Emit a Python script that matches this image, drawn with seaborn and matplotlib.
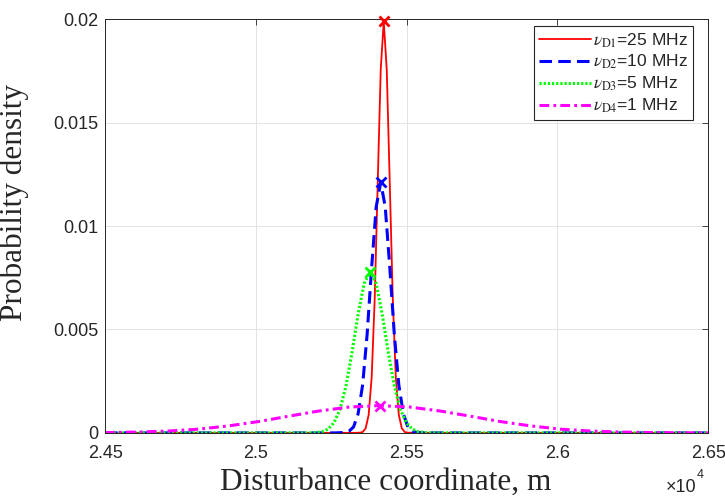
import seaborn as sns
import matplotlib.pyplot as plt
from matplotlib.ticker import FuncFormatter

# disturbance coordinate (m) and probability density
x_d1 = [24500, 25324, 25344, 25354, 25364, 25374, 25384, 25394, 25404, 25414, 25424,
        25434, 25444, 25454, 25464, 25474, 25484, 25494, 25504, 25524, 26500]
pdf_d1 = [0, 0, 0.00001, 0.00004, 0.00022, 0.00087, 0.00269, 0.00646, 0.01207, 0.01756, 0.0199,
          0.01756, 0.01207, 0.00646, 0.00269, 0.00087, 0.00022, 0.00004, 0.00001, 0, 0]

x_d2 = [24500, 25264, 25294, 25309, 25324, 25339, 25354, 25369, 25384, 25399, 25414,
        25429, 25444, 25459, 25474, 25489, 25504, 25519, 25534, 25564, 26500]
pdf_d2 = [0, 0, 0.00002, 0.00008, 0.00029, 0.00092, 0.00232, 0.00478, 0.00802, 0.01093, 0.01212,
          0.01093, 0.00802, 0.00478, 0.00232, 0.00092, 0.00029, 0.00008, 0.00002, 0, 0]

x_d3 = [24500, 25159, 25199, 25219, 25239, 25259, 25279, 25299, 25319, 25339, 25359, 25379,
        25399, 25419, 25439, 25459, 25479, 25499, 25519, 25539, 25559, 25599, 26500]
pdf_d3 = [0, 0, 0.000015, 0.000057, 0.00018, 0.00049, 0.00114, 0.00228, 0.0039, 0.00573, 0.00722, 0.0078,
          0.00722, 0.00573, 0.0039, 0.00228, 0.00114, 0.00049, 0.00018, 0.000057, 0.000015, 0, 0]

x_d4 = [24500, 24610, 24710, 24810, 24910, 25010, 25110, 25210, 25310, 25410,
        25510, 25610, 25710, 25810, 25910, 26010, 26110, 26210, 26310, 26410, 26500]
pdf_d4 = [0.000014, 0.00004, 0.00009, 0.00018, 0.00034, 0.00055, 0.00081, 0.00106, 0.00125, 0.00132,
          0.00125, 0.00106, 0.00081, 0.00055, 0.00034, 0.00018, 0.00009, 0.00004, 0.000016, 0.000005, 0.000002]

# peak markers
peak_x = [25424, 25414, 25379, 25410]
peak_y = [0.0199, 0.01212, 0.0078, 0.00132]

labels = [r'$\nu_{\mathrm{D1}}$=25 MHz', r'$\nu_{\mathrm{D2}}$=10 MHz',
          r'$\nu_{\mathrm{D3}}$=5 MHz', r'$\nu_{\mathrm{D4}}$=1 MHz']

x_ticks = [24500, 25000, 25500, 26000, 26500]
y_ticks = [0, 0.005, 0.01, 0.015, 0.02]

# styles
colors = ['#ff0000', '#0000ff', '#00ff00', '#ff00ff']
widths = [1.3, 2.2, 2.2, 2.2]
styles = ['-', (0, (9, 4.5)), (0, (1.6, 1.4)), (0, (7, 3, 2, 3))]

sns.set_theme(style='whitegrid')
plt.rcParams['font.family'] = ['Liberation Sans', 'DejaVu Sans']
plt.rcParams['mathtext.fontset'] = 'stix'
plt.rcParams['lines.scale_dashes'] = False

fig = plt.figure(figsize=(7.25, 4.97), dpi=100)
ax = fig.add_axes([0.145, 0.129, 0.8318, 0.8322])

series = [(x_d1, pdf_d1), (x_d2, pdf_d2), (x_d3, pdf_d3), (x_d4, pdf_d4)]
for i, (xs, ys) in enumerate(series):
    sns.lineplot(x=xs, y=ys, ax=ax, color=colors[i], linewidth=widths[i],
                 linestyle=styles[i], label=labels[i], estimator=None, sort=False)

for i in range(4):
    ax.plot(peak_x[i], peak_y[i], marker='x', color=colors[i], markersize=7,
            markeredgewidth=2, linestyle='none', zorder=6, clip_on=False)

ax.set_xlim(24500, 26500)
ax.set_ylim(0, 0.02)
ax.set_xticks(x_ticks)
ax.set_yticks(y_ticks)
ax.xaxis.set_major_formatter(FuncFormatter(lambda v, p: '{:g}'.format(round(v / 1e4, 4))))
ax.yaxis.set_major_formatter(FuncFormatter(lambda v, p: '{:g}'.format(round(v, 4))))

ax.grid(True, color='#e3e3e3', linewidth=0.7)
for s in ax.spines.values():
    s.set_color('#262626')
    s.set_linewidth(0.7)
ax.tick_params(direction='in', length=4, width=0.6, colors='#262626',
               labelsize=13, top=True, right=True)
ax.tick_params(axis='x', pad=9)
ax.tick_params(axis='y', pad=5)

ax.set_xlabel('Disturbance coordinate, m', fontfamily='Liberation Serif',
              fontsize=22.5, color='#262626')
ax.set_ylabel('Probability density', fontfamily='Liberation Serif',
              fontsize=22.5, color='#262626')
ax.xaxis.set_label_coords(0.466, -0.085)
ax.yaxis.set_label_coords(-0.127, 0.558)

fig.text(0.918, 0.02, '×10', fontsize=13, color='#262626', va='center')
fig.text(0.961, 0.045, '4', fontsize=9, color='#262626', va='center')

handles = ax.get_lines()[:4]
leg = ax.legend(handles=handles, labels=labels, loc='upper right',
                bbox_to_anchor=(0.975, 0.984), borderaxespad=0, fontsize=12.5,
                handlelength=3.0, handletextpad=0.1, labelspacing=0.2,
                fancybox=False, framealpha=1, edgecolor='#262626',
                borderpad=0.3)
leg.get_frame().set_linewidth(0.8)

fig.savefig('out.png', dpi=100)
